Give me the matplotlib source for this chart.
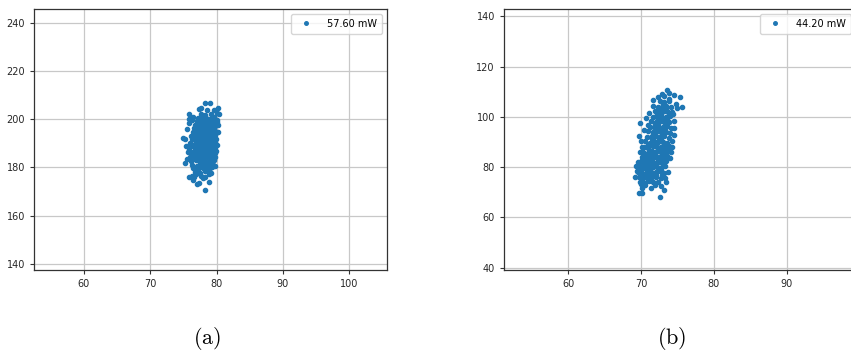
import matplotlib.pyplot as plt

plt.rcParams['mathtext.fontset'] = 'cm'

# (a) 57.60 mW
a_x = [76.8, 77.5, 78.3, 79.0,
       76.5, 77.2, 77.9, 78.6, 79.3,
       76.3, 77.0, 77.6, 78.2, 78.9, 79.5,
       76.2, 76.9, 77.5, 78.1, 78.7, 79.4,
       76.0, 76.7, 77.3, 77.9, 78.5, 79.1, 79.7,
       76.1, 76.8, 77.4, 78.0, 78.6, 79.2, 79.7,
       75.9, 76.6, 77.2, 77.8, 78.4, 79.0, 79.6,
       76.2, 76.8, 77.4, 78.0, 78.6, 79.2, 79.8,
       76.0, 76.7, 77.3, 77.9, 78.5, 79.1, 79.7,
       76.3, 76.9, 77.5, 78.1, 78.7, 79.3, 79.9,
       76.2, 76.8, 77.4, 78.0, 78.6, 79.2, 79.8,
       76.5, 77.1, 77.7, 78.3, 78.9, 79.5, 80.0,
       76.6, 77.2, 77.8, 78.4, 79.0, 79.6,
       76.8, 77.4, 78.0, 78.6, 79.2, 79.8,
       77.0, 77.6, 78.2, 78.8, 79.4, 80.0,
       77.2, 77.8, 78.4, 79.0, 79.6,
       77.6, 78.3, 79.1,
       77.1, 78.2, 77.7, 78.8, 77.0, 78.3, 77.5, 78.9, 77.9, 78.5, 76.4, 79.4,
       77.8, 78.4, 77.3, 79.0, 76.6, 79.5, 77.9, 78.1, 76.9, 78.7, 77.6, 79.3,
       77.2, 78.0, 78.6, 77.5, 78.3, 77.0, 78.9, 77.7, 78.4, 77.3, 78.1, 78.8,
       78.3, 78.8, 77.3, 77.0, 76.5, 75.9, 76.3, 76.6, 77.6, 78.8, 79.2, 78.8,
       75.3, 75.5, 75.7, 75.4, 74.9, 75.3, 75.5, 75.8, 75.9, 75.9, 76.3, 76.5,
       77.3, 77.7, 78.3, 79.0, 78.6, 79.6, 80.0, 80.3, 80.4, 80.3, 80.2, 80.1,
       80.1, 79.9, 79.6, 79.8, 77.9, 78.3, 76.9]
a_y = [178.2, 177.6, 178.4, 177.9,
       179.8, 179.3, 179.9, 179.2, 180.1,
       181.2, 180.7, 181.4, 180.8, 181.5, 181.0,
       182.6, 182.9, 182.3, 182.8, 182.2, 182.7,
       184.3, 183.8, 184.4, 183.9, 184.2, 183.7, 184.5,
       185.7, 185.2, 185.9, 185.4, 185.8, 185.3, 186.0,
       187.2, 186.8, 187.4, 186.9, 187.3, 186.7, 187.1,
       188.7, 188.2, 188.8, 188.3, 188.9, 188.4, 188.6,
       190.2, 189.8, 190.4, 189.7, 190.3, 189.9, 190.5,
       191.7, 191.2, 191.8, 191.3, 191.9, 191.4, 191.6,
       193.2, 192.8, 193.4, 192.7, 193.3, 192.9, 193.5,
       194.7, 194.2, 194.8, 194.3, 194.9, 194.4, 194.6,
       196.2, 195.7, 196.3, 195.8, 196.4, 195.9,
       197.7, 197.2, 197.8, 197.3, 197.9, 197.4,
       199.2, 198.7, 199.3, 198.8, 199.4, 198.9,
       200.6, 200.1, 200.7, 200.2, 200.8,
       202.1, 201.6, 202.3,
       186.1, 186.0, 189.2, 190.9, 192.5, 193.9, 195.5, 195.2, 198.2, 199.8, 189.3, 187.8,
       183.2, 181.6, 180.2, 192.2, 185.0, 196.7, 191.1, 187.7, 190.8, 185.1, 196.9, 198.3,
       183.1, 184.9, 187.9, 187.6, 189.1, 189.0, 192.4, 194.0, 191.0, 195.9, 196.6, 182.0,
       170.6, 174.1, 173.6, 173.0, 174.8, 176.2, 176.4, 176.0, 176.6, 177.4, 177.6, 179.6,
       181.7, 183.4, 186.3, 188.9, 192.1, 191.8, 195.8, 198.3, 200.0, 202.1, 199.6, 201.0,
       204.2, 204.6, 206.6, 206.6, 203.9, 203.8, 202.5, 204.6, 202.0, 194.8, 197.8, 199.9,
       189.4, 186.9, 183.2, 180.4, 175.5, 175.9, 177.1]

# (b) 44.20 mW
b_x = [69.9, 70.5, 71.1, 71.7, 72.3,
       69.7, 70.3, 70.9, 71.5, 72.1, 72.7,
       69.6, 70.2, 70.8, 71.4, 72.0, 72.6, 73.2,
       69.8, 70.4, 71.0, 71.6, 72.2, 72.8, 73.3,
       69.9, 70.5, 71.1, 71.7, 72.3, 72.9, 73.5,
       70.1, 70.7, 71.3, 71.9, 72.5, 73.1, 73.6,
       70.3, 70.9, 71.5, 72.1, 72.7, 73.3, 73.8,
       70.4, 71.0, 71.6, 72.2, 72.8, 73.4, 73.9,
       70.6, 71.2, 71.8, 72.4, 73.0, 73.6,
       70.8, 71.4, 72.0, 72.6, 73.2, 73.8,
       71.0, 71.6, 72.2, 72.8, 73.4, 74.0,
       71.2, 71.8, 72.4, 73.0, 73.6, 74.1,
       71.4, 72.0, 72.6, 73.2, 73.8,
       71.6, 72.2, 72.8, 73.4, 74.0,
       71.9, 72.5, 73.1, 73.7, 74.2,
       72.3, 72.9, 73.5, 74.1,
       72.6, 73.2, 73.8,
       70.6, 71.8, 72.9, 70.0, 71.2, 72.5, 70.8, 72.0, 73.0, 70.2, 71.4, 72.6,
       70.5, 71.7, 72.9, 71.1, 72.4, 73.5, 71.0, 72.0, 73.2, 71.5, 72.7, 71.7,
       72.9, 72.0, 73.3, 72.3, 73.5, 72.4, 73.6, 72.8, 73.4,
       70.1, 70.9, 71.3, 72.1, 72.8, 70.4, 71.5, 72.3, 70.7, 71.9, 73.0, 71.2,
       72.5, 71.6, 72.6, 71.9, 73.1, 72.2, 72.6, 73.0,
       72.58, 73.1, 69.7, 70.1, 69.15, 69.4, 69.6, 69.8, 69.7, 73.6, 73.8, 72.9,
       74.5, 75.3, 75.6, 74.8, 74.9, 74.6, 74.6, 74.3, 73.7, 73.5, 71.4, 70.2,
       71.7, 71.6, 70.7, 70.0, 70.6, 71.9, 72.7, 73.3, 74.0, 74.3, 74.6, 70.2,
       70.0, 70.4, 70.9, 71.1, 74.4, 73.9, 72.4, 73.2, 74.1, 69.3, 69.9]
b_y = [74.2, 73.8, 74.4, 73.9, 74.1,
       76.1, 75.8, 76.3, 75.9, 76.2, 75.7,
       78.2, 77.8, 78.3, 77.9, 78.1, 78.4, 77.7,
       80.1, 79.8, 80.3, 79.9, 80.2, 79.7, 80.4,
       82.2, 81.8, 82.3, 81.9, 82.1, 81.7, 82.4,
       84.1, 83.8, 84.3, 83.9, 84.2, 83.7, 84.4,
       86.2, 85.8, 86.3, 85.9, 86.1, 85.7, 86.4,
       88.1, 87.8, 88.3, 87.9, 88.2, 87.7, 88.4,
       90.2, 89.8, 90.3, 89.9, 90.1, 89.7,
       92.1, 91.8, 92.3, 91.9, 92.2, 91.7,
       94.2, 93.8, 94.3, 93.9, 94.1, 93.7,
       96.1, 95.8, 96.3, 95.9, 96.2, 95.7,
       98.2, 97.8, 98.3, 97.9, 98.1,
       100.1, 99.8, 100.3, 99.9, 100.2,
       102.2, 101.8, 102.3, 101.9, 102.1,
       104.1, 103.8, 104.3, 103.9,
       106.2, 105.8, 106.3,
       77.1, 77.2, 77.0, 79.1, 79.0, 79.2, 81.0, 81.2, 80.9, 83.0, 83.1, 82.8,
       85.1, 84.9, 85.2, 87.0, 87.2, 86.9, 89.1, 89.0, 89.2, 91.1, 90.9, 93.0,
       93.1, 95.0, 95.2, 97.1, 96.8, 99.2, 99.0, 101.1, 103.0,
       75.0, 75.1, 77.0, 76.9, 79.0, 81.1, 80.9, 83.1, 84.0, 85.0, 87.1, 88.9,
       90.9, 92.9, 95.1, 97.0, 98.9, 101.0, 103.1, 105.0,
       68.2, 70.9, 69.6, 69.6, 76.2, 78.6, 82.1, 97.7, 92.4, 110.7, 109.6, 109.0,
       108.7, 108.0, 104.0, 105.1, 103.4, 98.5, 92.8, 88.1, 78.2, 74.2, 71.6, 71.6,
       106.7, 104.3, 99.4, 73.4, 72.8, 73.0, 72.4, 75.8, 83.5, 90.5, 95.6, 88.0,
       90.3, 94.6, 96.8, 101.5, 101.2, 107.3, 107.9, 108.2, 86.0, 80.4, 86.2]

panels = [
    (a_x, a_y, '57.60 mW', (52.5, 105.7), (137.4, 245.8), range(60, 101, 10), range(140, 241, 20), '(a)'),
    (b_x, b_y, '44.20 mW', (51.2, 99.5), (39.1, 142.9), range(60, 91, 10), range(40, 141, 20), '(b)'),
]
rects = [[0.040, 0.2308, 0.4148, 0.7436], [0.5922, 0.2308, 0.4136, 0.7436]]
cap_x = [0.243, 0.789]

fig = plt.figure(figsize=(8.51, 3.51), dpi=100)
for (xs, ys, lab, xl, yl, xt, yt, cap), rect, cx in zip(panels, rects, cap_x):
    ax = fig.add_axes(rect)
    ax.plot(xs, ys, '.', color='#1f77b4', markersize=6, label=lab)
    ax.set_xlim(*xl)
    ax.set_ylim(*yl)
    ax.set_xticks(list(xt))
    ax.set_yticks(list(yt))
    ax.grid(True, color='#c8c8c8', linewidth=0.9)
    ax.set_axisbelow(True)
    ax.tick_params(labelsize=7, length=3, width=0.8, colors='#333333', labelcolor='#262626')
    for s in ax.spines.values():
        s.set_color('#333333')
        s.set_linewidth(0.9)
    ax.legend(loc='upper right', fontsize=7, handletextpad=1.2, borderpad=0.5, markerscale=0.85)
    fig.text(cx, 0.037, r'$\mathrm{' + cap + '}$', fontsize=16, ha='center', va='center')

fig.savefig('out.png', dpi=100)
